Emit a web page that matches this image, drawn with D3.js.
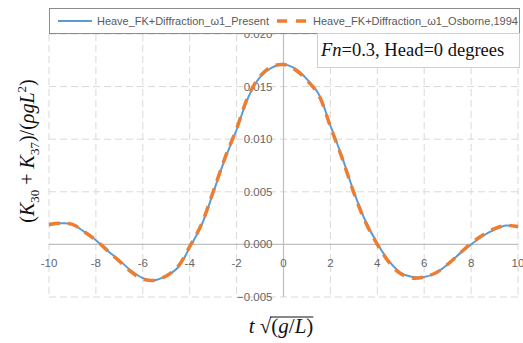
<!DOCTYPE html>
<html>
<head>
<meta charset="utf-8">
<script src="https://cdn.jsdelivr.net/npm/d3@7"></script>
<style>
  body { margin: 0; background: #fff; }
  svg { display: block; }
</style>
</head>
<body>
<div id="chart"></div>
<script>
// time axis t*sqrt(g/L)
var tValues = [-10, -9.5, -9, -8.5, -8, -7.5, -7, -6.5, -6, -5.5, -5, -4.5, -4, -3.5, -3, -2.5, -2, -1.5, -1, -0.5,
               0, 0.5, 1, 1.5, 2, 2.5, 3, 3.5, 4, 4.5, 5, 5.5, 6, 6.5, 7, 7.5, 8, 8.5, 9, 9.5, 10];
var present = [0.0018, 0.0020, 0.0019, 0.0012, 0.0004, -0.0006, -0.0015, -0.0025, -0.0032, -0.0034, -0.0030, -0.0022, -0.0003, 0.0018, 0.0049, 0.0081, 0.0109, 0.0140, 0.0159, 0.0168,
               0.0171, 0.0167, 0.0157, 0.0143, 0.0113, 0.0083, 0.0050, 0.0022, 0.0001, -0.0016, -0.0027, -0.0031, -0.0031, -0.0027, -0.0019, -0.0009, 0.0000, 0.0008, 0.0014, 0.0018, 0.0016];
var osborne = [0.0019, 0.0020, 0.0019, 0.0012, 0.0004, -0.0006, -0.0016, -0.0026, -0.0033, -0.0034, -0.0030, -0.0021, -0.0002, 0.0019, 0.0050, 0.0082, 0.0110, 0.0141, 0.0160, 0.0169,
               0.0171, 0.0166, 0.0156, 0.0142, 0.0112, 0.0082, 0.0049, 0.0021, 0.0000, -0.0017, -0.0028, -0.0032, -0.0031, -0.0027, -0.0019, -0.0009, 0.0001, 0.0009, 0.0015, 0.0018, 0.0017];
var xTicks = [-10, -8, -6, -4, -2, 0, 2, 4, 6, 8, 10];
var yTicks = [-0.005, 0, 0.005, 0.010, 0.015, 0.020];
var seriesNames = ["Heave_FK+Diffraction_\u03c91_Present", "Heave_FK+Diffraction_\u03c91_Osborne,1994"];

var W = 523, H = 343;
var svg = d3.select("#chart").append("svg")
    .attr("width", W)
    .attr("height", H);

var x = d3.scaleLinear().domain([-10, 10]).range([49, 518]);
var y = d3.scaleLinear().domain([-0.005, 0.020]).range([297, 34]);

var grid = svg.append("g");
// vertical gridlines
grid.selectAll("line.vg")
    .data(xTicks)
    .enter().append("line")
    .attr("x1", function (d) { return x(d); })
    .attr("x2", function (d) { return x(d); })
    .attr("y1", y(0.020))
    .attr("y2", y(-0.005))
    .attr("stroke", "#d9d9d9")
    .attr("stroke-dasharray", "7,4")
    .attr("stroke-width", 1);
// horizontal gridlines
grid.selectAll("line.hg")
    .data(yTicks.filter(function (d) { return d !== 0; }))
    .enter().append("line")
    .attr("x1", x(-10))
    .attr("x2", x(10))
    .attr("y1", function (d) { return y(d); })
    .attr("y2", function (d) { return y(d); })
    .attr("stroke", "#d9d9d9")
    .attr("stroke-dasharray", "7,4")
    .attr("stroke-width", 1);

// zero axes
svg.append("line")
    .attr("x1", x(-10)).attr("x2", x(10))
    .attr("y1", y(0)).attr("y2", y(0))
    .attr("stroke", "#bfbfbf").attr("stroke-width", 1.2);
svg.append("line")
    .attr("x1", x(0)).attr("x2", x(0))
    .attr("y1", y(0.020)).attr("y2", y(-0.005))
    .attr("stroke", "#bfbfbf").attr("stroke-width", 1.2);

// tick labels
svg.selectAll("text.xt")
    .data(xTicks)
    .enter().append("text")
    .attr("x", function (d) { return x(d); })
    .attr("y", y(0) + 23)
    .attr("text-anchor", "middle")
    .attr("font-family", "Liberation Sans, Arial, sans-serif")
    .attr("font-size", 11.5)
    .attr("fill", "#666")
    .text(function (d) { return d; });

svg.selectAll("text.yt")
    .data(yTicks)
    .enter().append("text")
    .attr("x", x(0) - 11)
    .attr("y", function (d) { return y(d) + 4; })
    .attr("text-anchor", "end")
    .attr("font-family", "Liberation Sans, Arial, sans-serif")
    .attr("font-size", 11.5)
    .attr("fill", "#666")
    .text(function (d) { return d3.format(".3f")(d); });

// series
var line = d3.line()
    .x(function (d) { return x(d[0]); })
    .y(function (d) { return y(d[1]); })
    .curve(d3.curveCatmullRom.alpha(0.5));

svg.append("path")
    .datum(d3.zip(tValues, present))
    .attr("d", line)
    .attr("fill", "none")
    .attr("stroke", "#5b9bd5")
    .attr("stroke-width", 2);

svg.append("path")
    .datum(d3.zip(tValues, osborne))
    .attr("d", line)
    .attr("fill", "none")
    .attr("stroke", "#ed7d31")
    .attr("stroke-width", 3.5)
    .attr("stroke-dasharray", "11,8");

// legend
var leg = svg.append("g");
leg.append("rect")
    .attr("x", 49.5).attr("y", 8.5)
    .attr("width", 470).attr("height", 25)
    .attr("fill", "#fff")
    .attr("stroke", "#8c8c8c")
    .attr("stroke-width", 1);
leg.append("line")
    .attr("x1", 58).attr("x2", 92).attr("y1", 21).attr("y2", 21)
    .attr("stroke", "#5b9bd5").attr("stroke-width", 2);
leg.append("text")
    .attr("x", 97).attr("y", 25)
    .attr("font-family", "Liberation Sans, Arial, sans-serif")
    .attr("font-size", 11).attr("fill", "#595959")
    .attr("textLength", 172).attr("lengthAdjust", "spacingAndGlyphs")
    .text(seriesNames[0]);
leg.append("line")
    .attr("x1", 277).attr("x2", 307).attr("y1", 21).attr("y2", 21)
    .attr("stroke", "#ed7d31").attr("stroke-width", 3.5)
    .attr("stroke-dasharray", "10,9");
leg.append("text")
    .attr("x", 313).attr("y", 25)
    .attr("font-family", "Liberation Sans, Arial, sans-serif")
    .attr("font-size", 11).attr("fill", "#595959")
    .attr("textLength", 205).attr("lengthAdjust", "spacingAndGlyphs")
    .text(seriesNames[1]);

// annotation box
svg.append("rect")
    .attr("x", 317.5).attr("y", 33.5)
    .attr("width", 202).attr("height", 34)
    .attr("fill", "#fff")
    .attr("stroke", "#cfcfcf")
    .attr("stroke-width", 1);
var ann = svg.append("text")
    .attr("x", 321).attr("y", 56)
    .attr("font-family", "Liberation Serif, Times New Roman, serif")
    .attr("font-size", 18.5)
    .attr("fill", "#111");
ann.append("tspan").attr("font-style", "italic").text("Fn");
ann.append("tspan").text("=0.3, Head=0 degrees");

// y axis title
var yt = svg.append("text")
    .attr("transform", "translate(34,151) rotate(-90)")
    .attr("text-anchor", "middle")
    .attr("font-family", "Liberation Serif, Times New Roman, serif")
    .attr("font-size", 20)
    .attr("fill", "#111");
yt.append("tspan").text("(");
yt.append("tspan").attr("font-style", "italic").text("K");
yt.append("tspan").attr("font-size", 13).attr("dy", 5).text("30");
yt.append("tspan").attr("dy", -5).text(" + ");
yt.append("tspan").attr("font-style", "italic").text("K");
yt.append("tspan").attr("font-size", 13).attr("dy", 5).text("37");
yt.append("tspan").attr("dy", -5).text(")/(");
yt.append("tspan").attr("font-style", "italic").text("\u03c1gL");
yt.append("tspan").attr("font-size", 13).attr("dy", -8).text("2");
yt.append("tspan").attr("dy", 8).text(")");

// x axis title
var xt = svg.append("text")
    .attr("x", 281).attr("y", 333)
    .attr("text-anchor", "middle")
    .attr("font-family", "Liberation Serif, Times New Roman, serif")
    .attr("font-size", 21)
    .attr("fill", "#111");
xt.append("tspan").attr("font-style", "italic").text("t");
xt.append("tspan").text(" \u221a");
xt.append("tspan").text("(");
xt.append("tspan").attr("font-style", "italic").text("g");
xt.append("tspan").text("/");
xt.append("tspan").attr("font-style", "italic").text("L");
xt.append("tspan").text(")");
// overline for the radical, from the root sign to the end
var node = xt.node();
var rootExt = node.getExtentOfChar(2);
var endExt = node.getExtentOfChar(node.getNumberOfChars() - 1);
svg.append("line")
    .attr("x1", rootExt.x + rootExt.width - 1).attr("x2", endExt.x + endExt.width)
    .attr("y1", rootExt.y + 3).attr("y2", rootExt.y + 3)
    .attr("stroke", "#111").attr("stroke-width", 1);
</script>
</body>
</html>
